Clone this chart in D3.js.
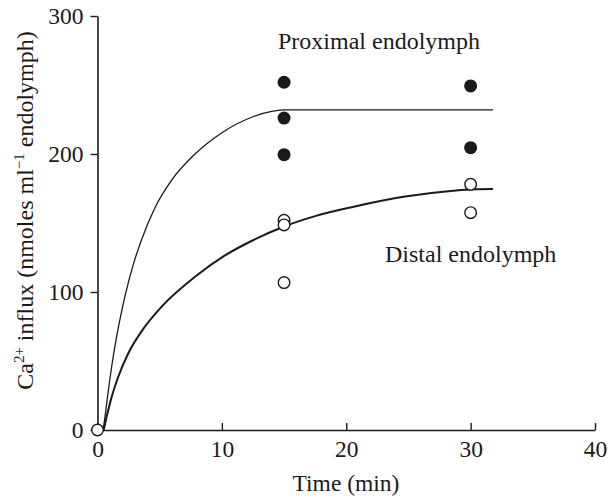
<!DOCTYPE html>
<html>
<head>
<meta charset="utf-8">
<script src="https://cdn.jsdelivr.net/npm/d3@7/dist/d3.min.js"></script>
<style>
  html, body { margin: 0; padding: 0; background: #fff; }
  svg { display: block; }
  text { font-family: "Liberation Serif", "Times New Roman", Times, serif; fill: #1a1a1a; }
</style>
</head>
<body>
<svg id="chart" width="610" height="500"></svg>
<script>
// ---- Data ----
const xTicks = [0, 10, 20, 30, 40];
const yTicks = [0, 100, 200, 300];

// Proximal endolymph (filled circles)
const proximalTime = [15, 15, 15, 30, 30];
const proximalInflux = [252, 226, 199.5, 249.3, 204.6];

// Distal endolymph (open circles), incl. origin point
const distalTime = [0, 15, 15, 15, 30, 30];
const distalInflux = [0, 152, 148.6, 106.8, 178, 157.5];

// Fitted curves
const proximalCurveTime = [0.45, 0.55, 0.82, 1.14, 1.67, 2.21, 2.88, 3.55, 4.62, 5.96, 7.84, 10.1, 12.5, 14.1, 15.0, 31.8];
const proximalCurveInflux = [0, 6, 25, 46, 74, 97, 120, 138, 161, 181, 200, 216, 227, 231, 232, 232];

const distalCurveTime = [0.5, 0.74, 1.14, 1.67, 2.48, 3.82, 5.16, 7.84, 10.25, 12.5, 15.0, 17.5, 20.6, 24.6, 28.6, 30.2, 31.8];
const distalCurveInflux = [0, 9.7, 24, 38.6, 55.6, 75, 89.4, 111, 126.5, 137.5, 147.5, 155, 161.8, 169, 173.4, 174.4, 174.6];

const labels = {
  proximal: "Proximal endolymph",
  distal: "Distal endolymph",
  x: "Time (min)"
};

// ---- Chart ----
const svg = d3.select("#chart");
const x = d3.scaleLinear().domain([0, 40]).range([97.5, 595]);
const y = d3.scaleLinear().domain([0, 300]).range([430, 16]);

// X axis: ticks pointing up (inside)
const xAxis = svg.append("g")
  .attr("transform", `translate(0,${y(0)})`)
  .call(d3.axisBottom(x).tickValues(xTicks).tickSizeInner(-7).tickSizeOuter(0).tickPadding(10));
xAxis.selectAll("text").style("font-size", "23.5px").attr("fill", "#1a1a1a");

// Y axis: ticks pointing left
const yAxis = svg.append("g")
  .attr("transform", `translate(${x(0)},0)`)
  .call(d3.axisLeft(y).tickValues(yTicks).tickSizeInner(7).tickSizeOuter(0).tickPadding(7));
yAxis.selectAll("text").style("font-size", "23.5px").attr("fill", "#1a1a1a");

svg.selectAll(".domain, .tick line").attr("stroke", "#1a1a1a").attr("stroke-width", 1.6);
svg.selectAll(".tick line").attr("stroke-width", 1.4);

// Curves
const line = d3.line().x(d => x(d[0])).y(d => y(d[1])).curve(d3.curveMonotoneX);
svg.append("path")
  .datum(d3.zip(proximalCurveTime, proximalCurveInflux))
  .attr("d", line).attr("fill", "none").attr("stroke", "#1a1a1a").attr("stroke-width", 1.3);
svg.append("path")
  .datum(d3.zip(distalCurveTime, distalCurveInflux))
  .attr("d", line).attr("fill", "none").attr("stroke", "#1a1a1a").attr("stroke-width", 2);

// Points
svg.append("g").selectAll("circle")
  .data(d3.zip(proximalTime, proximalInflux))
  .join("circle")
  .attr("cx", d => x(d[0])).attr("cy", d => y(d[1])).attr("r", 6.5)
  .attr("fill", "#1a1a1a");

svg.append("g").selectAll("circle")
  .data(d3.zip(distalTime, distalInflux))
  .join("circle")
  .attr("cx", d => x(d[0])).attr("cy", d => y(d[1])).attr("r", 5.8)
  .attr("fill", "#fff").attr("stroke", "#1a1a1a").attr("stroke-width", 1.4);

// Labels
svg.append("text").attr("x", 278).attr("y", 49).style("font-size", "24px").text(labels.proximal);
svg.append("text").attr("x", 385).attr("y", 262).style("font-size", "24px").text(labels.distal);
svg.append("text").attr("x", 346).attr("y", 491).attr("text-anchor", "middle").style("font-size", "23.5px").text(labels.x);

// Y axis title with superscripts
const yt = svg.append("text")
  .attr("transform", "translate(32.5,210.5) rotate(-90)")
  .attr("text-anchor", "middle")
  .style("font-size", "24px");
yt.append("tspan").text("Ca");
yt.append("tspan").attr("dy", -9).style("font-size", "15px").text("2+");
yt.append("tspan").attr("dy", 9).text(" influx (nmoles ml");
yt.append("tspan").attr("dy", -9).style("font-size", "15px").text("\u22121");
yt.append("tspan").attr("dy", 9).text(" endolymph)");
</script>
</body>
</html>
